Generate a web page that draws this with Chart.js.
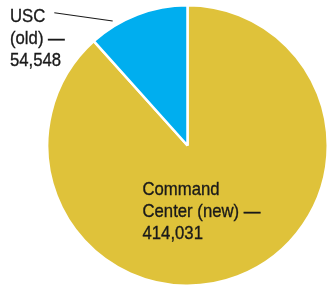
<!DOCTYPE html>
<html>
<head>
<meta charset="utf-8">
<script src="https://cdn.jsdelivr.net/npm/chart.js@4.4.0/dist/chart.umd.min.js"></script>
<style>
  html, body { margin: 0; padding: 0; background: #fff; }
  #wrap { width: 329px; height: 287px; position: relative; }
</style>
</head>
<body>
<div id="wrap"><canvas id="myChart"></canvas></div>
<script>
// data
var categories = ['Command Center (new)', 'USC (old)'];
var values = [414031, 54548];
var colors = ['#DFC23A', '#00AEEF'];
// how each label is broken into lines
var labelLines = [
  ['Command', 'Center (new) \u2014', '414,031'],
  ['USC', '(old) \u2014', '54,548']
];

var FONT = '19px "Liberation Sans", Arial, sans-serif';
var SQUEEZE = 0.88;   // condensed look
var LINE_H = 22.4;

function narrowText(ctx, t, x, y) {
  ctx.save();
  ctx.translate(x, y);
  ctx.scale(SQUEEZE, 1);
  ctx.fillText(t, 0, 0);
  ctx.lineWidth = 0.35;
  ctx.strokeText(t, 0, 0);
  ctx.restore();
}

var labelsPlugin = {
  id: 'sliceLabels',
  afterDraw: function(chart) {
    var ctx = chart.ctx;
    var arcs = chart.getDatasetMeta(0).data;
    ctx.save();
    ctx.font = FONT;
    ctx.fillStyle = '#1a1a1a';
    ctx.strokeStyle = '#1a1a1a';
    ctx.textBaseline = 'alphabetic';
    ctx.textAlign = 'left';

    // big slice: label inside
    var big = arcs[0];
    var bx = big.x - 45, by = big.y + 49;
    labelLines[0].forEach(function(t, i) { narrowText(ctx, t, bx, by + i * LINE_H); });

    // small slice: label outside, top-left, with a leader line
    var small = arcs[1];
    var sx = 10, sy = 21.5;
    labelLines[1].forEach(function(t, i) { narrowText(ctx, t, sx, sy + i * LINE_H); });

    var a = small.startAngle + (small.endAngle - small.startAngle) * 0.26;
    var r = small.outerRadius + 5;
    var ex = small.x + Math.cos(a) * r, ey = small.y + Math.sin(a) * r;
    ctx.lineWidth = 1.1;
    ctx.beginPath();
    ctx.moveTo(sx + ctx.measureText(labelLines[1][0]).width * SQUEEZE + 9, 12.7);
    ctx.lineTo(ex, ey);
    ctx.stroke();
    ctx.restore();
  }
};

var chart = new Chart(document.getElementById('myChart'), {
  type: 'pie',
  data: {
    labels: categories,
    datasets: [{
      data: values,
      backgroundColor: colors,
      borderColor: '#ffffff',
      borderWidth: 2.5
    }]
  },
  options: {
    responsive: true,
    maintainAspectRatio: false,
    animation: false,
    layout: { padding: { left: 46, top: 4, right: 0, bottom: 0 } },
    plugins: {
      legend: { display: false },
      tooltip: { enabled: false }
    }
  },
  plugins: [labelsPlugin]
});
</script>
</body>
</html>
